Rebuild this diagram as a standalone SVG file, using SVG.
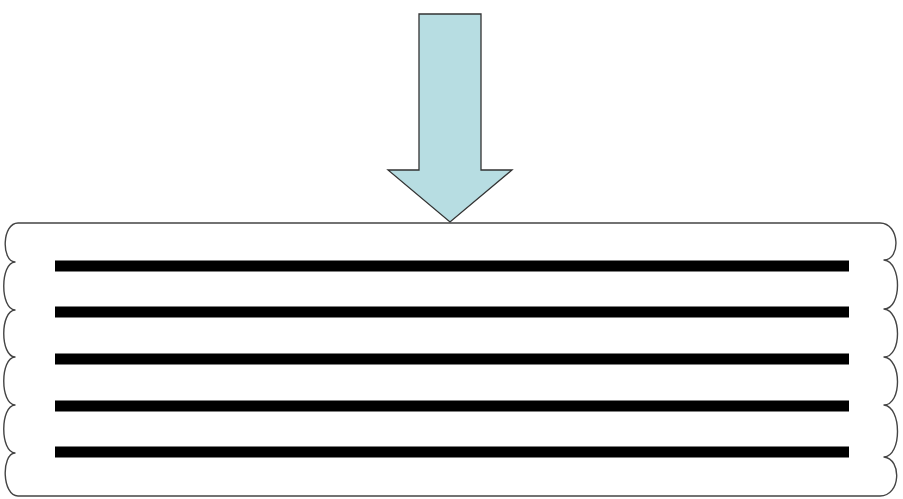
<svg xmlns="http://www.w3.org/2000/svg" width="903" height="499" viewBox="0 0 903 499">
<style>
.outline{fill:#fff;stroke:#444;stroke-width:1.4;stroke-linejoin:round}
.bar{stroke:#000;stroke-width:11}
.arrow{fill:#b7dde2;stroke:#333;stroke-width:1.3;stroke-linejoin:miter}
</style>
<rect width="903" height="499" fill="#fff"/>
<g id="stack">
<path class="outline" d="M18,223 L880,223 C 900,223 901,260 884,260 C 902,262 902,309 884,309 C 902,311 902,357 884,357 C 902,359 902,405 884,405 C 902,407 902,456 884,457 C 902,459 901,496 880,496 L18,496 C 2,496 1,454 15,453 C 0,452 0,406 15,405 C 0,404 0,358 15,357 C 0,356 0,311 15,310 C 0,309 0,263 15,262 C 1,261 2,223 18,223 Z"/>
<line class="bar" x1="55" y1="266" x2="849" y2="266"/>
<line class="bar" x1="55" y1="312" x2="849" y2="312"/>
<line class="bar" x1="55" y1="359" x2="849" y2="359"/>
<line class="bar" x1="55" y1="406" x2="849" y2="406"/>
<line class="bar" x1="55" y1="452" x2="849" y2="452"/>
</g>
<g id="arrow">
<path class="arrow" d="M419,14 L481,14 L481,170 L512,170 L450,222 L388,170 L419,170 Z"/>
</g>
<g id="connectors"></g>
</svg>
